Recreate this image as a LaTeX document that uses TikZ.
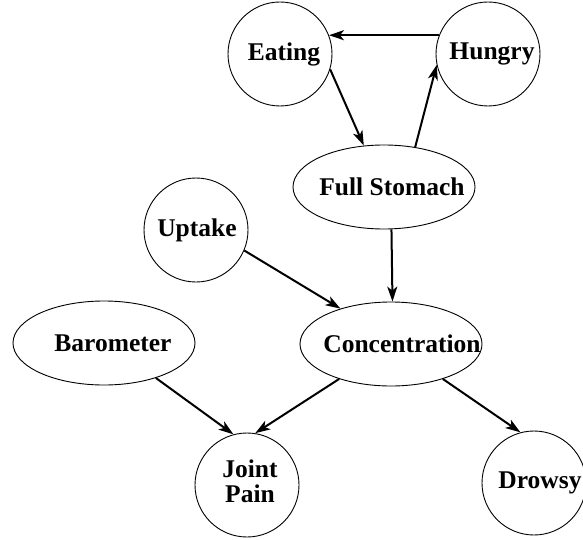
\documentclass[tikz,border=0pt]{standalone}
\usepackage{fontspec}
\setmainfont{Liberation Serif}
\usetikzlibrary{shapes.geometric,arrows.meta}
\newcommand{\zb}[2]{\makebox[0pt]{\hspace*{#1}#2}}
\begin{document}
\begin{tikzpicture}[x=1pt,y=-1pt,
  every node/.style={font=\fontsize{25.5}{24}\selectfont\bfseries, inner sep=0pt},
  circ/.style={circle, draw, line width=0.9pt, minimum size=104pt},
  ell/.style={ellipse, draw, line width=0.9pt, minimum width=182pt, minimum height=84pt},
  arr/.style={line width=2pt, -{Stealth[length=15pt,width=10pt,inset=4pt]}}]
\useasboundingbox (0,0) rectangle (583,540);
\node[circ] (eat) at (280,54) {\zb{8pt}{Eating}};
\node[circ] (hun) at (488,54) {\zb{8pt}{Hungry}};
\node[ell] (fs) at (384,187) {\zb{16pt}{Full Stomach}};
\node[circ] (up) at (196,230) {\zb{2pt}{Uptake}};
\node[ell] (bar) at (104,343) {\zb{18pt}{Barometer}};
\node[ell] (con) at (391,344) {\zb{22pt}{Concentration}};
\node[circ] (jp) at (247,485) {\zb{6pt}{\begin{tabular}{@{}c@{}}Joint\\Pain\end{tabular}}};
\node[circ] (dr) at (534,483) {\zb{12pt}{Drowsy}};
\draw[arr] (hun.159) -- (eat.21);
\draw[arr] (eat.-17) -- (fs.116);
\draw[arr] (fs.52) -- (hun.192);
\draw[arr] (fs.-80) -- (con.88);
\draw[arr] (up.-23) -- (con.145);
\draw[arr] (bar.-34.5) -- (jp.105);
\draw[arr] (con.214) -- (jp.81);
\draw[arr] (con.-34) -- (dr.105);
\end{tikzpicture}
\end{document}
